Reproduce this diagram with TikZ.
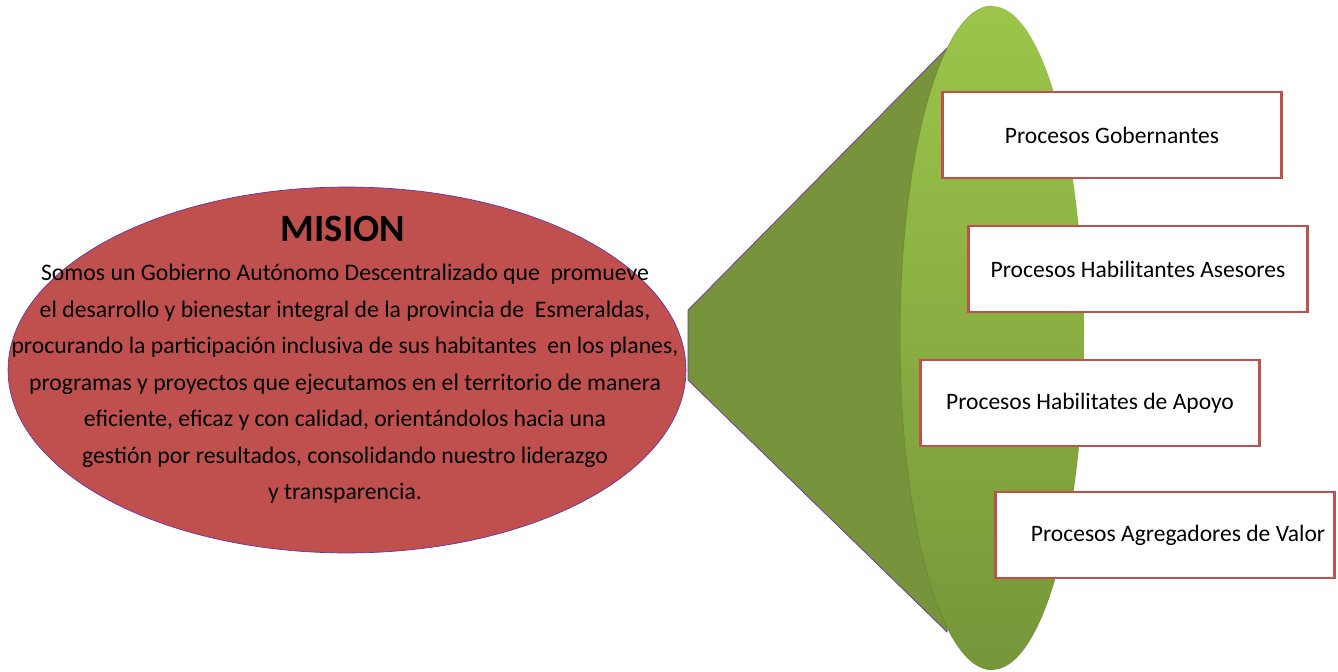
\documentclass[tikz,border=0pt]{standalone}
\usepackage{fontspec}
\setmainfont{Carlito}
\usetikzlibrary{shapes.geometric}
\definecolor{rojomision}{HTML}{C0504D}
\definecolor{moradoborde}{HTML}{7030A0}
\definecolor{verdeoscuro}{HTML}{77933C}
\definecolor{verdeclaro}{HTML}{9BC54A}
\definecolor{verdebajo}{HTML}{76963A}
\tikzset{
  mision/.style = {ellipse, fill = rojomision, draw = moradoborde, thin, inner sep = 0pt},
  proceso/.style = {rectangle, fill = white, draw = rojomision, line width = 1.6pt,
    minimum width = 6.78cm, minimum height = 1.72cm,
    font = \fontsize{13.4}{15}\selectfont}
}
\begin{document}
\begin{tikzpicture}[x = 0.02cm, y = -0.02cm]
			\useasboundingbox (0,0) rectangle (1338,672);
			% embudo
			\filldraw[fill = verdeoscuro, draw = moradoborde, thin] (688,310) -- (947,48) -- (947,632) -- (688,380) -- cycle;
			\shade[top color = verdeclaro, bottom color = verdebajo] (992,338) ellipse [x radius = 1.84cm, y radius = 6.64cm];
			\draw[verdebajo!80!black, opacity = 0.5] (992,6) arc [start angle = 90, end angle = 270, x radius = 1.84cm, y radius = 6.64cm];
			% mision
			\node[mision, minimum width = 13.56cm, minimum height = 7.32cm] (mision) at (347,370) {};
			\node[font = \fontsize{22}{24}\bfseries] (titulo) at (343,229) {MISION};
			\node[align = center, font = \fontsize{13.5}{20.8}\selectfont] (texto) at (345,384) {Somos un Gobierno Autónomo Descentralizado que\ \ promueve\\
				el desarrollo y bienestar integral de la provincia de\ \ Esmeraldas,\\
				procurando la participación inclusiva de sus habitantes\ \ en los planes,\\
				programas y proyectos que ejecutamos en el territorio de manera\\
				eficiente, eficaz y con calidad, orientándolos hacia una\\
				gestión por resultados, consolidando nuestro liderazgo\\
				y transparencia.};
			% procesos
			\node[proceso] (gobernantes) at (1112,135) {Procesos Gobernantes};
			\node[proceso] (asesores) at (1138,269) {Procesos Habilitantes Asesores};
			\node[proceso] (apoyo) at (1090,403) {Procesos Habilitates de Apoyo};
			\node[proceso] (agregadores) at (1165,535) {\hspace{0.52cm}Procesos Agregadores de Valor};
		\end{tikzpicture}
\end{document}
